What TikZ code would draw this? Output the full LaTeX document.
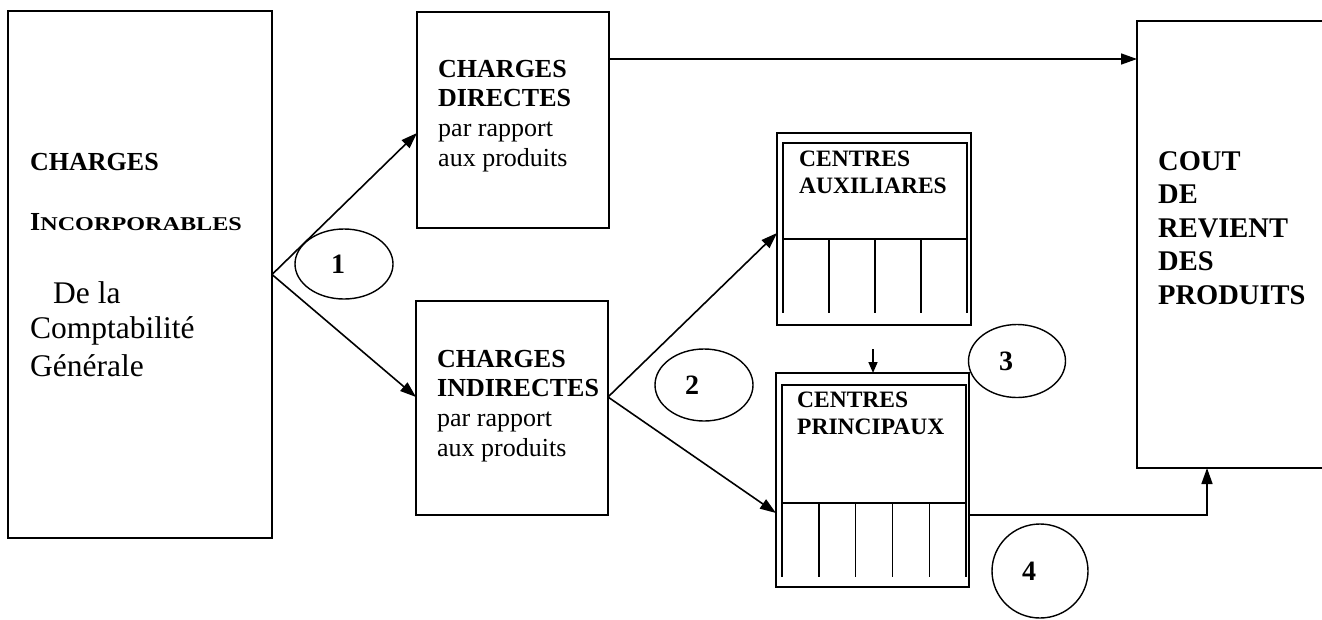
\documentclass[tikz,border=0pt]{standalone}
\usepackage{fontspec}
\usepackage{graphicx}
\setmainfont{Liberation Serif}
\usetikzlibrary{arrows.meta,shapes.geometric,calc}
\begin{document}
\begin{tikzpicture}[x=1pt,y=-1pt,
  box/.style={draw,line width=1.8pt,inner sep=0pt,outer sep=0pt,anchor=north west},
  arr/.style={line width=1.6pt,-{Triangle[length=16pt,width=11pt]}},
  sarr/.style={line width=1.6pt,-{Triangle[length=11pt,width=9pt]}},
  ell/.style={draw,ellipse,line width=1.4pt,inner sep=0pt},
  num/.style={font=\fontsize{28}{30}\selectfont\bfseries},
  txt/.style={inner sep=0pt,anchor=base west},
  bx/.style={txt,font=\fontsize{26}{29.7}\selectfont},
  cx/.style={txt,font=\fontsize{23.5}{27.5}\selectfont\bfseries},
  kx/.style={txt,font=\fontsize{28.5}{33.5}\selectfont\bfseries}]
\useasboundingbox (0,0) rectangle (1322,619);

% left box
\node[box,minimum width=264pt,minimum height=527pt] (cig) at (8,11) {};
\node[txt,font=\fontsize{26}{30}\selectfont\bfseries] (t1) at (30,170) {CHARGES};
\node[txt] (t2) at (30,230) {{\fontsize{26}{30}\selectfont\bfseries I}\scalebox{1.24}[1]{\fontsize{19.5}{24}\selectfont\bfseries NCORPORABLES}};
\node[txt,font=\fontsize{31.5}{36}\selectfont] (t3) at (53,303) {De la};
\node[txt,font=\fontsize{31.5}{36}\selectfont] (t4) at (30,338) {Comptabilité};
\node[txt,font=\fontsize{31.5}{36}\selectfont] (t5) at (30,376) {Générale};

% charges directes / indirectes
\node[box,minimum width=192pt,minimum height=216pt] (cd) at (417,12) {};
\node[bx] (cdt) at (438,77) {\begin{tabular}[t]{@{}l@{}}\textbf{CHARGES}\\ \textbf{DIRECTES}\\ par rapport\\ aux produits\end{tabular}};
\node[box,minimum width=192pt,minimum height=214pt] (ci) at (416,301) {};
\node[bx] (cit) at (437,367) {\begin{tabular}[t]{@{}l@{}}\textbf{CHARGES}\\ \textbf{INDIRECTES}\\ par rapport\\ aux produits\end{tabular}};

% centres auxiliaires
\node[box,minimum width=194pt,minimum height=192pt] (ca) at (777,133) {};
\node[box,line width=1.4pt,minimum width=184pt,minimum height=96pt] (cah) at (783,143) {};
\foreach \i in {0,...,4}{
  \draw[line width=1.4pt] ($(cah.south west)+(\i*46,0)$) -- ++(0,74);
}
\node[cx] (cat) at (799,166) {\begin{tabular}[t]{@{}l@{}}CENTRES\\ AUXILIARES\end{tabular}};

% centres principaux
\node[box,minimum width=193pt,minimum height=214pt] (cp) at (776,373) {};
\node[box,line width=1.4pt,minimum width=184pt,minimum height=118pt] (cph) at (782,385) {};
\foreach \i in {0,...,5}{
  \draw[line width=1.4pt] ($(cph.south west)+(\i*36.8,0)$) -- ++(0,74);
}
\node[cx] (cpt) at (797,407) {\begin{tabular}[t]{@{}l@{}}CENTRES\\ PRINCIPAUX\end{tabular}};

% cout de revient
\node[box,minimum width=220pt,minimum height=447pt] (cr) at (1137,21) {};
\node[kx] (crt) at (1158,170) {\begin{tabular}[t]{@{}l@{}}COUT\\ DE\\ REVIENT\\ DES\\ PRODUITS\end{tabular}};

% ellipses
\node[ell,minimum width=98pt,minimum height=70pt,label={[num,xshift=-6pt]center:1}] (e1) at (344,264) {};
\node[ell,minimum width=98pt,minimum height=72pt,label={[num,xshift=-12pt]center:2}] (e2) at (704,385) {};
\node[ell,minimum width=97pt,minimum height=73pt,label={[num,xshift=-11pt]center:3}] (e3) at (1017,361) {};
\node[ell,minimum width=96pt,minimum height=94pt,label={[num,xshift=-11pt]center:4}] (e4) at (1040,571) {};

% coordinates
\coordinate (cdin) at (417,133);
\coordinate (ciin) at (416,397);
\coordinate (ciout) at (608,397);
\coordinate (cdout) at (609,59);
\coordinate (crin) at (1137,59);
\coordinate (cain) at (777,233);
\coordinate (cpin) at (776,513);
\coordinate (s1) at (873,349);
\coordinate (cpout) at (969,515);
\coordinate (crb) at (1207,468);

% connectors
\draw[arr] (cig.east) -- (cdin);
\draw[arr] (cig.east) -- (ciin);
\draw[arr] (cdout) -- (crin);
\draw[arr] (ciout) -- (cain);
\draw[arr] (ciout) -- (cpin);
\draw[sarr] (s1) -- (s1 |- cp.north);
\draw[arr] (cpout) -| (crb);
\end{tikzpicture}
\end{document}
